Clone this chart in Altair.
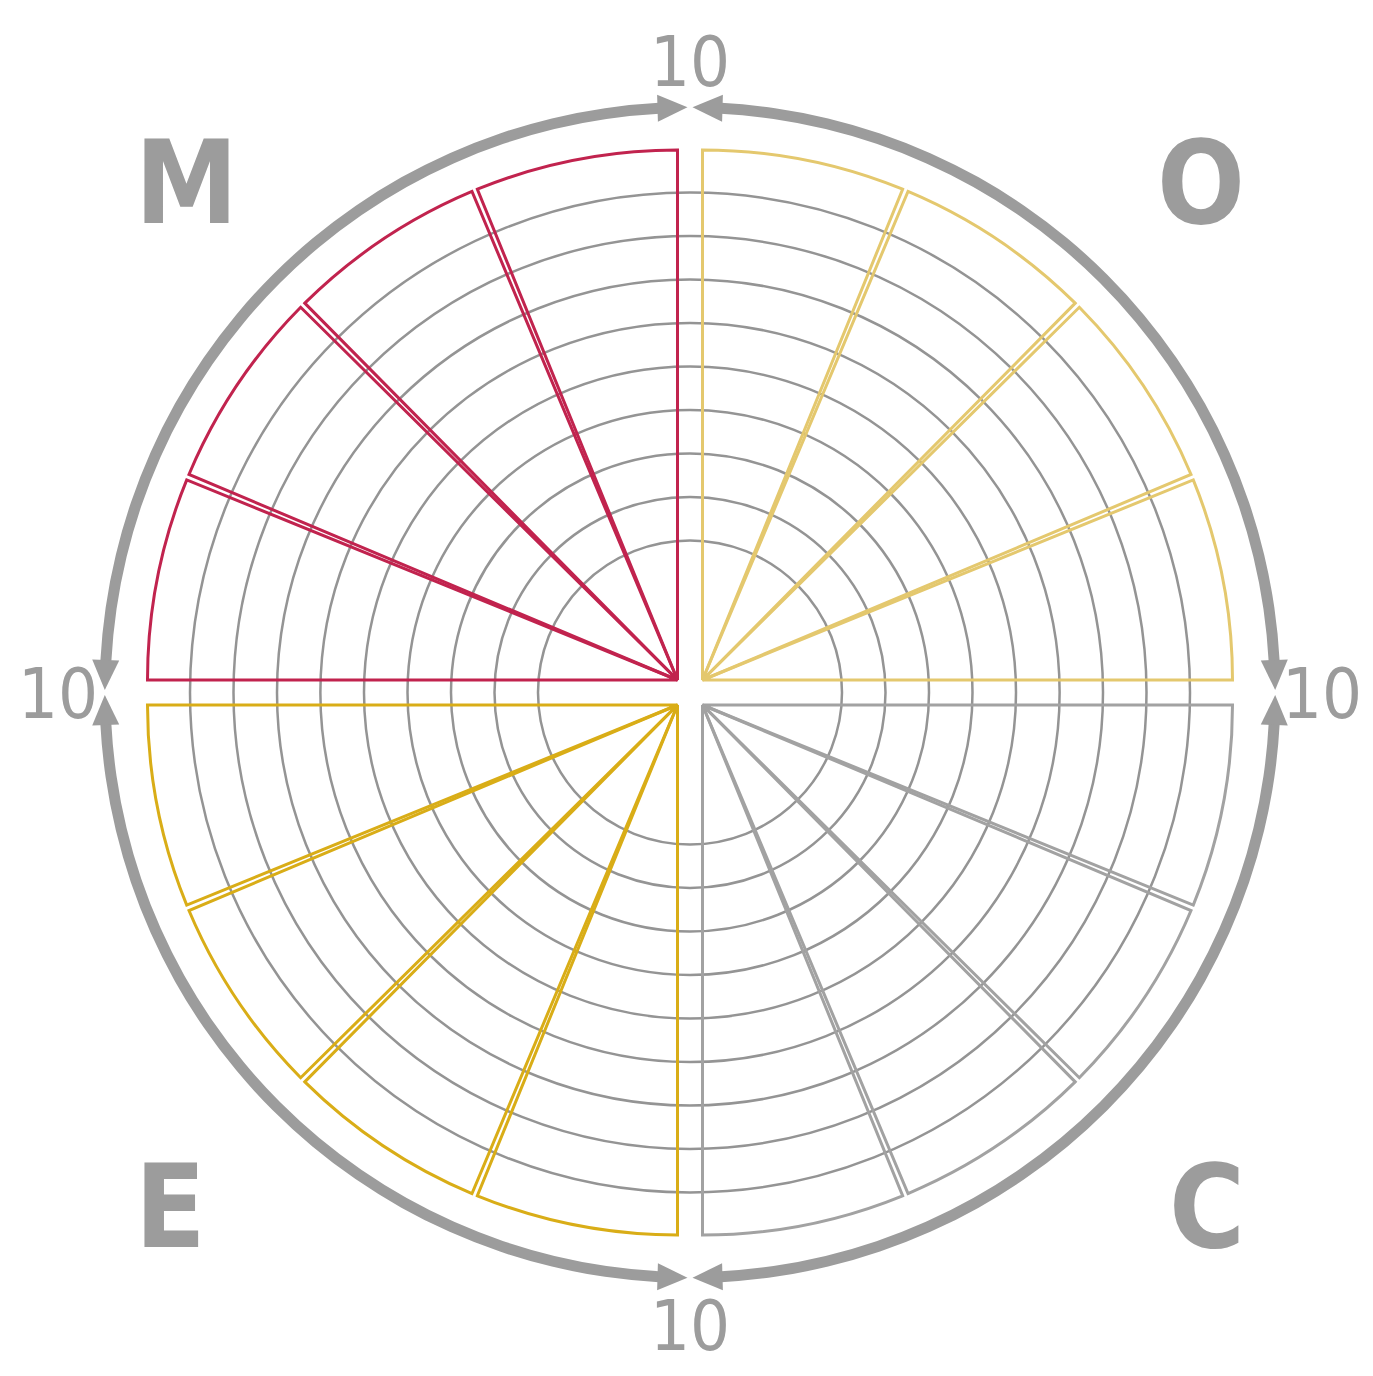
import math
import altair as alt
import pandas as pd

# ---------------- data ----------------
quadrants = ["O", "C", "E", "M"]            # clockwise from 12 o'clock
quad_colors = ["#E4C86E", "#A2A2A2", "#D9AD17", "#C1234E"]
segment_values = {                           # 4 segments per quadrant, all full (10)
    "O": [10, 10, 10, 10],
    "C": [10, 10, 10, 10],
    "E": [10, 10, 10, 10],
    "M": [10, 10, 10, 10],
}
ring_levels = [1, 2, 3, 4, 5, 6, 7, 8, 9]
axis_labels = ["10", "10", "10", "10"]
axis_angles = [0, 90, 180, 270]
letter_angles = [45, 135, 225, 315]         # O, C, E, M corners

# ---------------- layout / style constants ----------------
W, H = 1357, 1360
CX, CY = 682, 684.5
OFF = 12.5                 # half gap between quadrants
PAD = 0.011                # pad angle between segments (rad)
PAD_DEG = math.degrees(PAD)
GRAY = "#9C9C9C"
RING_GRAY = "#949494"
ARROW_R = 585
TIP_GAP = 2.5
HEAD_LEN = 30
LABEL_R = 632
FONT = "Liberation Sans Narrow, DejaVu Sans Condensed, Liberation Sans, sans-serif"

# ---------------- tables ----------------
wedge_rows = []
for qi, q in enumerate(quadrants):
    vals = segment_values[q]
    n = len(vals)
    step = 90.0 / n
    for si, v in enumerate(vals):
        t0 = qi * 90 + si * step - (PAD_DEG / 2 if si == 0 else 0)
        t1 = qi * 90 + (si + 1) * step + (PAD_DEG / 2 if si == n - 1 else 0)
        wedge_rows.append({"quad": q, "qi": qi, "si": si, "value": v, "t0": t0, "t1": t1})
wedge_df = pd.DataFrame(wedge_rows)

ring_df = pd.DataFrame({"level": ring_levels})

band_gap_deg = math.degrees((TIP_GAP + HEAD_LEN - 1.5) / ARROW_R)
quad_df = pd.DataFrame({"quad": quadrants, "qi": list(range(4))})
quad_df["b0"] = quad_df["qi"] * 90 + band_gap_deg
quad_df["b1"] = (quad_df["qi"] + 1) * 90 - band_gap_deg

arrow_rows = []
for a in axis_angles:
    for d in (-1, 1):
        arrow_rows.append({"axis": a, "dir": d})
arrow_df = pd.DataFrame(arrow_rows)

label_df = pd.DataFrame({"label": axis_labels, "angle": axis_angles})
letter_df = pd.DataFrame({"letter": quadrants, "angle": letter_angles})

theta_scale = alt.Scale(domain=[0, 360], range=[0, 2 * math.pi])

# ---------------- layers ----------------
rings = alt.Chart(ring_df).mark_arc(
    filled=False, stroke=RING_GRAY, strokeWidth=2.5
).encode(
    theta=alt.value(0),
    theta2=alt.value(2 * math.pi),
    radius=alt.Radius("level:Q", stack=None,
                      scale=alt.Scale(type="linear", domain=[0, 10], range=[108.5, 543.5])),
    radius2=alt.value(0),
    x=alt.value(CX),
    y=alt.value(CY),
)

wedges = alt.Chart(wedge_df).transform_calculate(
    cx=f"{CX} + {OFF} * (datum.qi < 2 ? 1 : -1)",
    cy=f"{CY} + {OFF} * ((datum.qi == 1 || datum.qi == 2) ? 1 : -1)",
).mark_arc(filled=False, strokeWidth=3, padAngle=PAD).encode(
    theta=alt.Theta("t0:Q", scale=theta_scale, stack=None),
    theta2="t1:Q",
    radius=alt.Radius("value:Q", stack=None,
                      scale=alt.Scale(type="linear", domain=[0, 10], range=[0, 530])),
    radius2=alt.value(0),
    stroke=alt.Stroke("quad:N", scale=alt.Scale(domain=quadrants, range=quad_colors), legend=None),
    x=alt.X("cx:Q", scale=None),
    y=alt.Y("cy:Q", scale=None),
)

band = alt.Chart(quad_df).mark_arc(color=GRAY).encode(
    theta=alt.Theta("b0:Q", scale=theta_scale, stack=None),
    theta2="b1:Q",
    radius=alt.value(ARROW_R + 5.5),
    radius2=alt.value(ARROW_R - 5.5),
    x=alt.value(CX),
    y=alt.value(CY),
)

head_off_deg = math.degrees((TIP_GAP + HEAD_LEN / 2) / ARROW_R)
arrows = alt.Chart(arrow_df).transform_calculate(
    th=f"datum.axis + datum.dir * {head_off_deg}",
).transform_calculate(
    rot="datum.dir < 0 ? datum.th : datum.th + 180",
    px=f"{CX} + {ARROW_R} * sin(datum.th * PI / 180)",
    py=f"{CY} - {ARROW_R} * cos(datum.th * PI / 180)",
).mark_point(
    shape="M-1,-0.9L1,0L-1,0.9Z", size=HEAD_LEN * HEAD_LEN, filled=True,
    color=GRAY, opacity=1, strokeWidth=0,
).encode(
    x=alt.X("px:Q", scale=None),
    y=alt.Y("py:Q", scale=None),
    angle=alt.Angle("rot:Q", scale=None),
)

labels = alt.Chart(label_df).transform_calculate(
    px=f"{CX} + {LABEL_R} * sin(datum.angle * PI / 180)",
    py=f"{CY} - {LABEL_R} * cos(datum.angle * PI / 180)",
).mark_text(
    font=FONT, fontSize=70, color=GRAY, align="center", baseline="middle", dy=4
).encode(
    x=alt.X("px:Q", scale=None),
    y=alt.Y("py:Q", scale=None),
    text="label:N",
)

def letter_layer(side):
    sign = 1 if side == "right" else -1
    return alt.Chart(letter_df).transform_calculate(
        sx="sin(datum.angle * PI / 180) > 0 ? 1 : -1",
        sy="cos(datum.angle * PI / 180) > 0 ? -1 : 1",
    ).transform_filter(
        f"datum.sx == {sign}"
    ).transform_calculate(
        px=f"{CX} + 555 * datum.sx",
        py=f"{CY} + 512 * datum.sy",
    ).mark_text(
        font=FONT, fontSize=115, fontWeight="bold", color=GRAY,
        align=side, baseline="middle", dy=7,
    ).encode(
        x=alt.X("px:Q", scale=None),
        y=alt.Y("py:Q", scale=None),
        text="letter:N",
    )

chart = alt.layer(
    rings, wedges, band, arrows, labels, letter_layer("left"), letter_layer("right")
).resolve_scale(
    radius="independent"
).properties(
    width=W, height=H, padding=0, background="white",
    autosize=alt.AutoSizeParams(type="none"),
).configure_view(stroke=None)

chart.save("out.html", embed_options={"renderer": "svg", "actions": False})
